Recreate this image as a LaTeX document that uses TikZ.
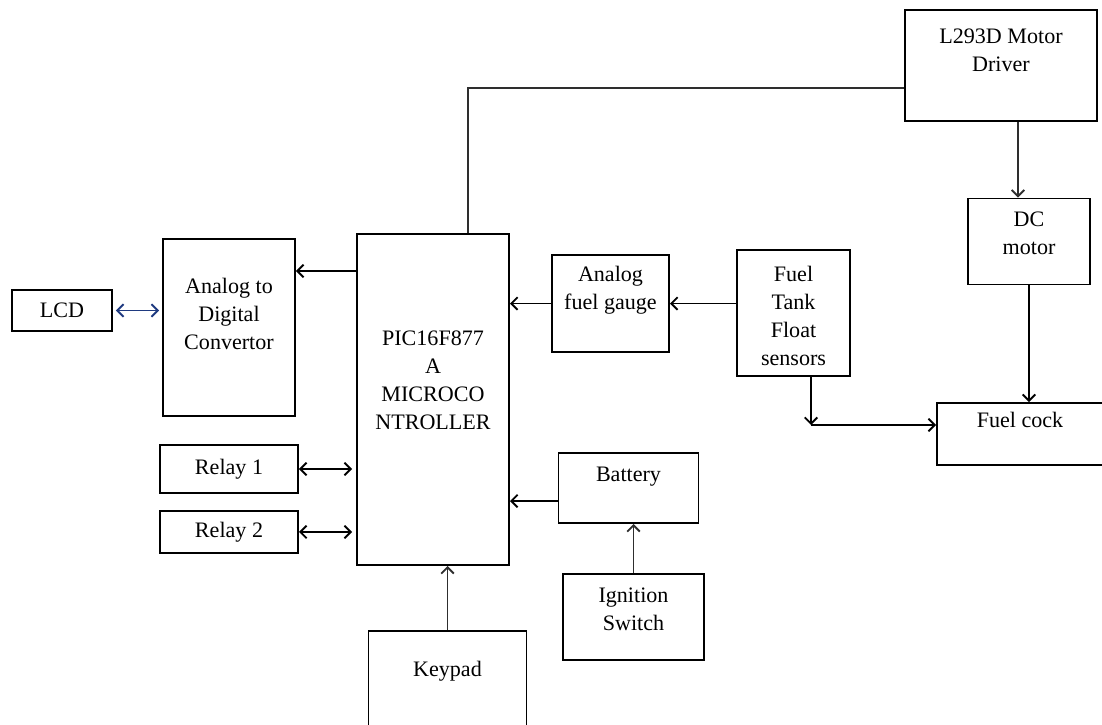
\documentclass[tikz,border=0pt]{standalone}
\usepackage{fontspec}
\setmainfont{Liberation Serif}
\usepackage{tikz}
\definecolor{LinkBlue}{HTML}{1F3A80}
\definecolor{WireGray}{HTML}{2E2E2E}
\usetikzlibrary{arrows.meta}
\usetikzlibrary{positioning}
\newcommand{\px}{0.025cm}

\begin{document}
\begin{tikzpicture}[x=\px, y=-\px,
    font=\fontsize{15.7}{19.9}\selectfont,
    block/.style={shape=rectangle, draw, line width=1.4pt, inner sep=0pt},
    caption/.style={anchor=north, align=center, inner sep=0pt},
    wire/.style={line width=1.3pt},
    >={Straight Barb[length=4.5pt,width=9pt]}]

    \path [use as bounding box] (0,0) rectangle (1102,724);

    \node[name=lcd, block,
      minimum width=100*\px,
      minimum height=41*\px] at (62,310.5) {LCD};

    \node[name=adc, block,
      minimum width=132*\px,
      minimum height=177*\px,
      label={[caption, yshift=-40*\px]north:{Analog to\\Digital\\Convertor}}] at (229,327.5) {};

    \node[name=pic, block,
      minimum width=152*\px,
      minimum height=331*\px,
      label={[caption, yshift=-98*\px]north:{PIC16F877\\A\\MICROCO\\NTROLLER}}] at (433,399.5) {};

    \node[name=relay1, block,
      minimum width=138*\px,
      minimum height=48*\px] at (229,469) {Relay 1};

    \node[name=relay2, block,
      minimum width=138*\px,
      minimum height=42*\px,
      below=0.4cm of relay1] {Relay 2};

    \node[name=gauge, block,
      minimum width=117*\px,
      minimum height=97*\px,
      label={[caption, yshift=-12*\px]north:{Analog\\fuel gauge}}] at (610.5,303.5) {};

    \node[name=tank, block,
      minimum width=113*\px,
      minimum height=126*\px,
      label={[caption, yshift=-17*\px]north:{Fuel\\Tank\\Float\\sensors}}] at (793.5,313) {};

    \node[name=driver, block,
      minimum width=192*\px,
      minimum height=111*\px,
      label={[caption, yshift=-20*\px]north:{L293D Motor\\Driver}}] at (1001,65.5) {};

    \node[name=dcmotor, block,
      minimum width=122*\px,
      minimum height=86*\px,
      label={[caption, yshift=-14*\px]north:{DC\\motor}}] at (1029,241.5) {};

    \node[name=fuelcock, block,
      minimum width=174*\px,
      minimum height=62*\px,
      label={[caption, yshift=-10*\px, xshift=-4*\px]north:{Fuel cock}}] at (1024,434) {};

    \node[name=battery, block,
      minimum width=140*\px,
      minimum height=70*\px,
      label={[caption, yshift=-15*\px]north:{Battery}}] at (628.5,488) {};

    \node[name=ignition, block,
      minimum width=141*\px,
      minimum height=86*\px,
      below=1.225cm of battery, xshift=0.125cm,
      label={[caption, yshift=-15*\px]north:{Ignition\\Switch}}] {};

    \node[name=keypad, block,
      minimum width=158*\px,
      minimum height=110*\px,
      label={[caption, yshift=-31*\px]north:{Keypad}}] at (447.5,686) {};

    \coordinate (adcin) at ([yshift=56.5*\px]adc.east);
    \coordinate (batin) at ([yshift=-13*\px]battery.west);
    \coordinate (picup) at ([xshift=35*\px]pic.north);
    \coordinate (driverin) at ([yshift=-22.5*\px]driver.west);
    \coordinate (drvout) at ([xshift=17*\px]driver.south);
    \coordinate (tankout) at ([xshift=17.5*\px]tank.south);
    \coordinate (cockin) at ([yshift=9*\px]fuelcock.west);
    \coordinate (tee) at (tankout |- cockin);

    \path (lcd.east) edge[wire, LinkBlue, <->, shorten <=3*\px, shorten >=3*\px] (lcd.east -| adc.west);
    \path (pic.west |- adcin) edge[wire, ->] (adcin);
    \path (relay1.east) edge[wire, <->, shorten >=4*\px] (relay1.east -| pic.west);
    \path (relay2.east) edge[wire, <->, shorten >=4*\px] (relay2.east -| pic.west);
    \path (gauge.west) edge[wire, ->] (gauge.west -| pic.east);
    \path (tank.west |- gauge.east) edge[wire, ->] (gauge.east);
    \path (batin) edge[wire, ->] (batin -| pic.east);
    \path (ignition.north) edge[wire, WireGray, ->] (ignition.north |- battery.south);
    \path (keypad.north) edge[wire, WireGray, ->] (keypad.north |- pic.south);
    \draw[wire, WireGray] (picup) |- (driverin);
    \path (drvout) edge[wire, WireGray, ->] (drvout |- dcmotor.north);
    \path (dcmotor.south) edge[wire, ->] (dcmotor.south |- fuelcock.north);
    \path (tankout) edge[wire, ->] (tee);
    \path (tee) edge[wire, ->] (cockin);
  \end{tikzpicture}
\end{document}
